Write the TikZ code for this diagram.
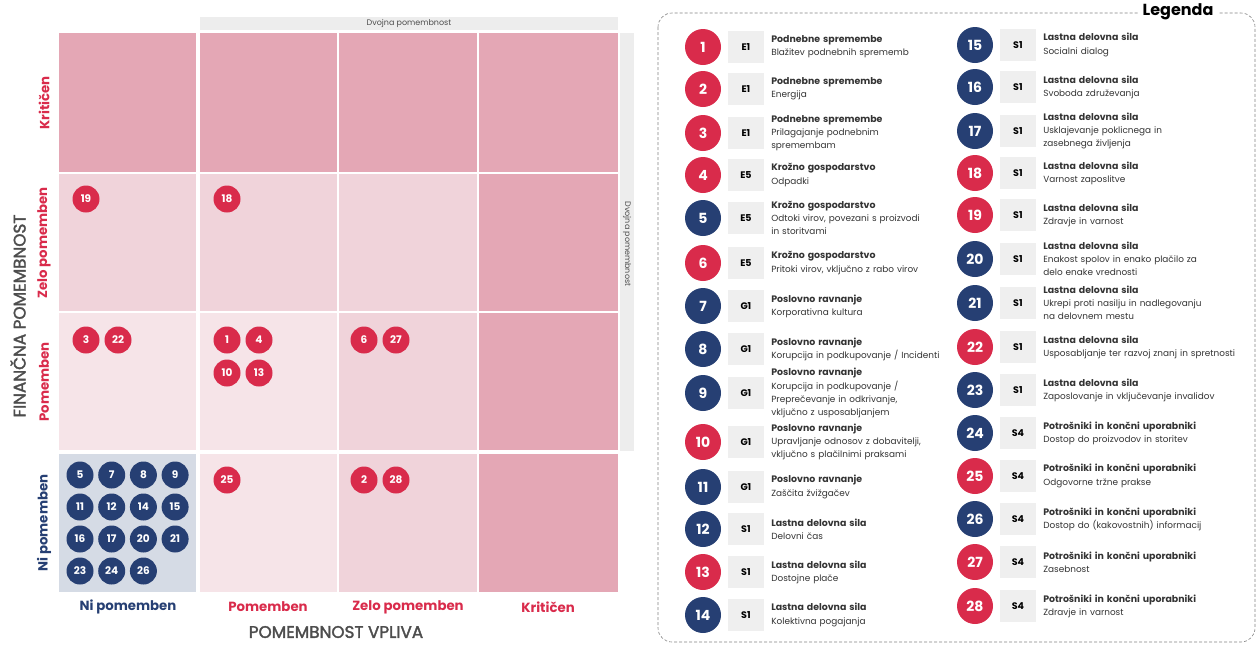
\documentclass[tikz,border=0pt]{standalone}
\usepackage{fontspec}
\setmainfont{Poppins}
\newfontfamily\medfont{Poppins}[FakeBold=2]
\usetikzlibrary{positioning}

\definecolor{esgred}{HTML}{D92B4B}
\definecolor{esgblue}{HTML}{263F73}
\definecolor{cellhigh}{HTML}{E4A7B5}
\definecolor{cellmid}{HTML}{F0D3DA}
\definecolor{celllow}{HTML}{F6E4E8}
\definecolor{cellnone}{HTML}{D5DBE5}
\definecolor{bandgray}{HTML}{EDEDED}
\definecolor{codegray}{HTML}{EFEFEF}
\definecolor{axisgray}{HTML}{4D4D4D}

\tikzset{
  bubble/.style={circle, fill=#1, text=white, inner sep=0pt, minimum size=27pt,
    font=\bfseries\fontsize{10.5}{10.5}\selectfont},
  legbubble/.style={circle, fill=#1, text=white, inner sep=0pt, minimum size=36pt,
    font=\bfseries\fontsize{14}{14}\selectfont},
  codebox/.style={fill=codegray, minimum width=36pt, minimum height=32pt, inner sep=0pt,
    font=\bfseries\fontsize{9.5}{9.5}\selectfont},
  legtext/.style={anchor=west, inner sep=0pt, text width=200pt, align=left,
    font=\fontsize{8.9}{13.2}\selectfont, text=black!80},
  levellabel/.style={font=\bfseries\fontsize{13.3}{13.3}\selectfont, text=#1},
  axislabel/.style={font=\medfont\fontsize{16.8}{16.8}\selectfont, text=axisgray},
  bandtext/.style={font=\fontsize{8}{8}\selectfont, text=axisgray},
}

\begin{document}
\begin{tikzpicture}[x=1pt, y=-1pt]
  \useasboundingbox (0,0) rectangle (1257,646);

  % double materiality bands
  \fill[bandgray] (200,17) rectangle (618,30);
  \fill[bandgray] (620,33) rectangle (634,451);
  \node[bandtext] (bandtop) at (409,23.5) {Dvojna pomembnost};
  \node[bandtext, rotate=-90] (bandright) at (627,244) {Dvojna pomembnost};

  % matrix cells
  \foreach \xa/\xb/\ya/\yb/\clr in {
      59/196/33/172/cellhigh, 200/337/33/172/cellhigh, 339/477/33/172/cellhigh, 479/618/33/172/cellhigh,
      59/196/174/311/cellmid, 200/337/174/311/cellmid, 339/477/174/311/cellmid, 479/618/174/311/cellhigh,
      59/196/313/450/celllow, 200/337/313/450/celllow, 339/477/313/450/cellmid, 479/618/313/450/cellhigh,
      59/196/454/592/cellnone, 200/337/454/592/celllow, 339/477/454/592/cellmid, 479/618/454/592/cellhigh}
    \fill[\clr] (\xa,\ya) rectangle (\xb,\yb);

  % topics in the matrix
  \foreach \n/\bx/\by in {19/86/199, 18/227/199, 3/86/340, 22/118/340,
      1/227/340, 4/259/340, 10/227/373, 13/259/373, 6/364/340, 27/396/340,
      25/227/480, 2/364/480, 28/396/480}
    \node[bubble=esgred] (m\n) at (\bx,\by) {\n};

  \foreach \n [count=\i from 0] in {5,7,8,9,11,12,14,15,16,17,20,21,23,24,26} {
    \pgfmathtruncatemacro\ccol{mod(\i,4)}
    \pgfmathtruncatemacro\crow{\i/4}
    \node[bubble=esgblue] (m\n) at (80+31.7*\ccol, 475+32*\crow) {\n};
  }

  % axes
  \node[levellabel=esgblue] (xni) at (128,607) {Ni pomemben};
  \node[levellabel=esgred] (xpom) at (268,607) {Pomemben};
  \node[levellabel=esgred] (xzelo) at (408,607) {Zelo pomemben};
  \node[levellabel=esgred] (xkrit) at (548,607) {Kritičen};
  \node[axislabel] (xaxis) at (336,632) {POMEMBNOST VPLIVA};

  \node[levellabel=esgred, rotate=90] (ykrit) at (44,103) {Kritičen};
  \node[levellabel=esgred, rotate=90] (yzelo) at (44,243) {Zelo pomemben};
  \node[levellabel=esgred, rotate=90] (ypom) at (44,382) {Pomemben};
  \node[levellabel=esgblue, rotate=90] (yni) at (44,523) {Ni pomemben};
  \node[axislabel, rotate=90] (yaxis) at (18,316) {FINANČNA POMEMBNOST};

  % legend
  \draw[axisgray!70, line width=0.6pt, dash pattern=on 3pt off 2pt, rounded corners=14pt] (658,13) rectangle (1255,642);
  \node[fill=white, inner xsep=5pt, font=\bfseries\fontsize{16}{16}\selectfont] (legtitle) at (1178,12) {Legenda};

  \foreach \n/\clr/\cx/\cy/\code/\head/\desc in {
      1/esgred/703/47/E1/Podnebne spremembe/Blažitev podnebnih sprememb,
      2/esgred/703/89/E1/Podnebne spremembe/Energija,
      3/esgred/703/133/E1/Podnebne spremembe/Prilagajanje podnebnim\\spremembam,
      4/esgred/703/175/E5/Krožno gospodarstvo/Odpadki,
      5/esgblue/703/218/E5/Krožno gospodarstvo/{Odtoki virov, povezani s proizvodi\\in storitvami},
      6/esgred/703/263/E5/Krožno gospodarstvo/{Pritoki virov, vključno z rabo virov},
      7/esgblue/703/306/G1/Poslovno ravnanje/Korporativna kultura,
      8/esgblue/703/349/G1/Poslovno ravnanje/{Korupcija in podkupovanje / Incidenti},
      9/esgblue/703/393/G1/Poslovno ravnanje/{Korupcija in podkupovanje /\\Preprečevanje in odkrivanje,\\vključno z usposabljanjem},
      10/esgred/703/442/G1/Poslovno ravnanje/{Upravljanje odnosov z dobavitelji,\\vključno s plačilnimi praksami},
      11/esgblue/703/487/G1/Poslovno ravnanje/Zaščita žvižgačev,
      12/esgblue/703/529/S1/Lastna delovna sila/Delovni čas,
      13/esgred/703/572/S1/Lastna delovna sila/Dostojne plače,
      14/esgblue/703/615/S1/Lastna delovna sila/Kolektivna pogajanja,
      15/esgblue/975/45/S1/Lastna delovna sila/Socialni dialog,
      16/esgblue/975/87/S1/Lastna delovna sila/Svoboda združevanja,
      17/esgblue/975/131/S1/Lastna delovna sila/Usklajevanje poklicnega in\\zasebnega življenja,
      18/esgred/975/173/S1/Lastna delovna sila/Varnost zaposlitve,
      19/esgred/975/215/S1/Lastna delovna sila/Zdravje in varnost,
      20/esgblue/975/259/S1/Lastna delovna sila/Enakost spolov in enako plačilo za\\delo enake vrednosti,
      21/esgblue/975/303/S1/Lastna delovna sila/Ukrepi proti nasilju in nadlegovanju\\na delovnem mestu,
      22/esgred/975/347/S1/Lastna delovna sila/Usposabljanje ter razvoj znanj in spretnosti,
      23/esgblue/975/390/S1/Lastna delovna sila/Zaposlovanje in vključevanje invalidov,
      24/esgblue/975/433/S4/Potrošniki in končni uporabniki/Dostop do proizvodov in storitev,
      25/esgred/975/476/S4/Potrošniki in končni uporabniki/Odgovorne tržne prakse,
      26/esgblue/975/519/S4/Potrošniki in končni uporabniki/Dostop do (kakovostnih) informacij,
      27/esgred/975/562/S4/Potrošniki in končni uporabniki/Zasebnost,
      28/esgred/975/606/S4/Potrošniki in končni uporabniki/Zdravje in varnost} {
    \node[legbubble=\clr] (leg\n) at (\cx,\cy) {\n};
    \node[codebox, right=6.5pt of leg\n] (code\n) {\code};
    \node[legtext, right=7pt of code\n] (desc\n) {{\bfseries\fontsize{9.4}{13.2}\selectfont\head}\\\desc};
  }

\end{tikzpicture}
\end{document}
